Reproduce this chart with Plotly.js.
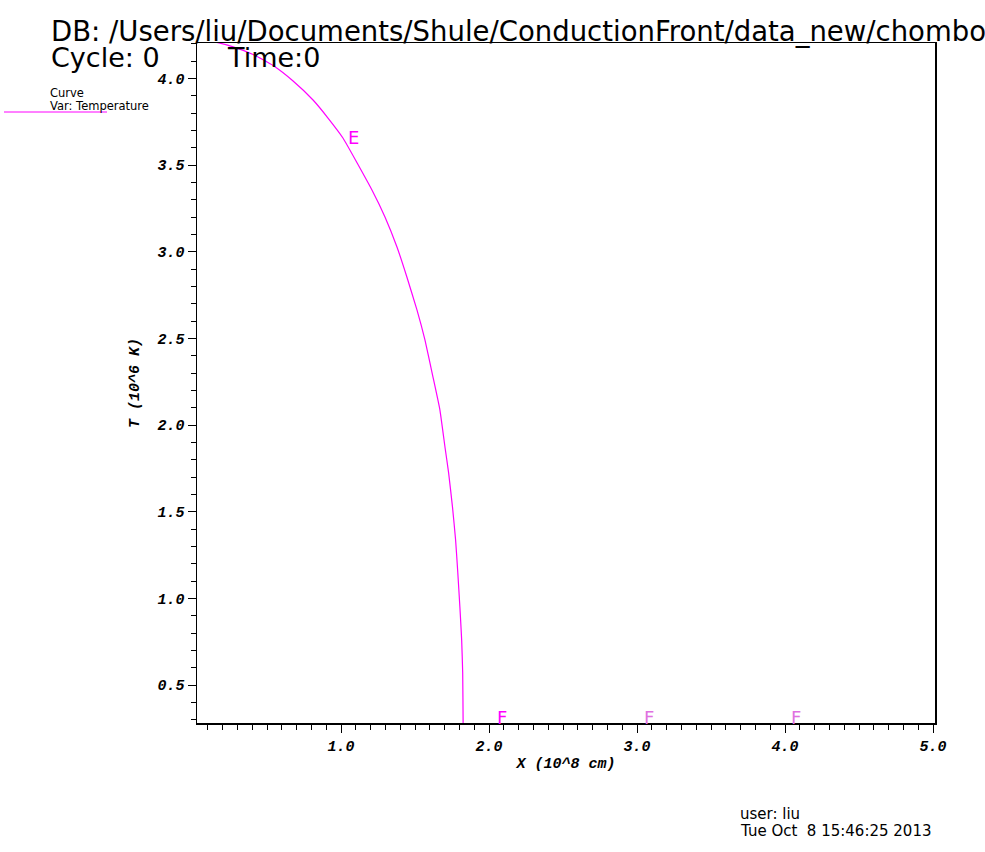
<!DOCTYPE html>
<html>
<head>
<meta charset="utf-8">
<script src="https://cdn.plot.ly/plotly-3.0.1.min.js"></script>
<style>html,body{margin:0;padding:0;background:#fff;}#plot{width:985px;height:852px;}</style>
</head>
<body>
<div id="plot"></div>
<script>
// Curve: Temperature (10^6 K) vs X (10^8 cm)
const xVals = [0.0, 0.136, 0.271, 0.406, 0.541, 0.676, 0.811, 0.912, 1.013, 1.209, 1.297, 1.378, 1.445, 1.513, 1.567, 1.621, 1.668, 1.703, 1.727, 1.753, 1.774, 1.789, 1.803, 1.815, 1.822, 1.825, 1.828, 5.0];
const tVals = [4.23, 4.212, 4.182, 4.138, 4.074, 3.985, 3.875, 3.771, 3.656, 3.356, 3.200, 3.027, 2.854, 2.664, 2.491, 2.278, 2.088, 1.869, 1.724, 1.528, 1.338, 1.148, 0.952, 0.762, 0.572, 0.28, 0.1, 0.1];

// Curve label glyphs
const labelText = ["E", "F", "F", "F"];
const labelX = [1.081, 2.086, 3.078, 4.077];
const labelY = [3.656, 0.315, 0.315, 0.315];
const labelColor = ["#ff00ff", "#ff00ff", "#e070e0", "#e070e0"];

const xRange = [0.027, 5.013];
const yRange = [0.281, 4.204];

const monoFont = {family: "Liberation Mono, Courier New, monospace", size: 15, color: "#000", weight: "bold", style: "italic"};
const sansFont = "DejaVu Sans, Liberation Sans, Arial, sans-serif";

const trace = {
  x: xVals, y: tVals, type: "scatter", mode: "lines",
  line: {color: "#ff00ff", width: 1.2, shape: "spline", smoothing: 0.4},
  hoverinfo: "none", showlegend: false
};

const annotations = labelText.map((t, i) => ({
  x: labelX[i], y: labelY[i], xref: "x", yref: "y", text: t, showarrow: false,
  font: {family: sansFont, size: 18, color: labelColor[i]}
}));

const pageTexts = [
  {text: "DB: /Users/liu/Documents/Shule/ConductionFront/data_new/chombo", px: 49, py: 31, size: 27.5},
  {text: "Cycle: 0", px: 49, py: 57, size: 27},
  {text: "Time:0", px: 225, py: 57, size: 27},
  {text: "Curve", px: 48, py: 93, size: 11.5},
  {text: "Var: Temperature", px: 48, py: 106, size: 11.5},
  {text: "user: liu", px: 738, py: 814, size: 15},
  {text: "Tue Oct&nbsp;&nbsp;8 15:46:25 2013", px: 738, py: 831, size: 15}
];

const W = 985, H = 852, L = 197, R = 50, T = 43, B = 129;
const pw = W - L - R, ph = H - T - B;

pageTexts.forEach(p => {
  annotations.push({
    xref: "paper", yref: "paper",
    x: (p.px - L) / pw, y: 1 - (p.py - T) / ph,
    xanchor: "left", yanchor: "middle",
    text: p.text, showarrow: false,
    font: {family: sansFont, size: p.size, color: "#000"}
  });
});

const shapes = [{
  type: "line", xref: "paper", yref: "paper",
  x0: (4 - L) / pw, x1: (107 - L) / pw,
  y0: 1 - (112 - T) / ph, y1: 1 - (112 - T) / ph,
  line: {color: "#ff00ff", width: 1}
}];

const layout = {
  width: W, height: H,
  margin: {l: L, r: R, t: T, b: B, pad: 0},
  paper_bgcolor: "#fff", plot_bgcolor: "#fff",
  showlegend: false,
  xaxis: {
    range: xRange, dtick: 1, tick0: 0, tickformat: ".1f",
    showgrid: false, zeroline: false,
    showline: true, linecolor: "#000", linewidth: 1.5, mirror: true,
    ticks: "outside", ticklen: 8, tickwidth: 1, tickcolor: "#000",
    minor: {dtick: 0.1, tick0: 0, ticks: "outside", ticklen: 5, tickwidth: 1, tickcolor: "#000", showgrid: false},
    tickfont: monoFont,
    title: {text: "X (10^8 cm)", standoff: 3, font: monoFont}
  },
  yaxis: {
    range: yRange, dtick: 0.5, tick0: 0, tickformat: ".1f",
    showgrid: false, zeroline: false,
    showline: true, linecolor: "#000", linewidth: 1.5, mirror: true,
    ticks: "outside", ticklen: 8, tickwidth: 1, tickcolor: "#000",
    minor: {dtick: 0.1, tick0: 0, ticks: "outside", ticklen: 5, tickwidth: 1, tickcolor: "#000", showgrid: false},
    tickfont: monoFont,
    title: {text: "T (10^6 K)", standoff: 14, font: monoFont}
  },
  annotations: annotations,
  shapes: shapes
};

Plotly.newPlot("plot", [trace], layout, {staticPlot: true, displayModeBar: false});
</script>
</body>
</html>
